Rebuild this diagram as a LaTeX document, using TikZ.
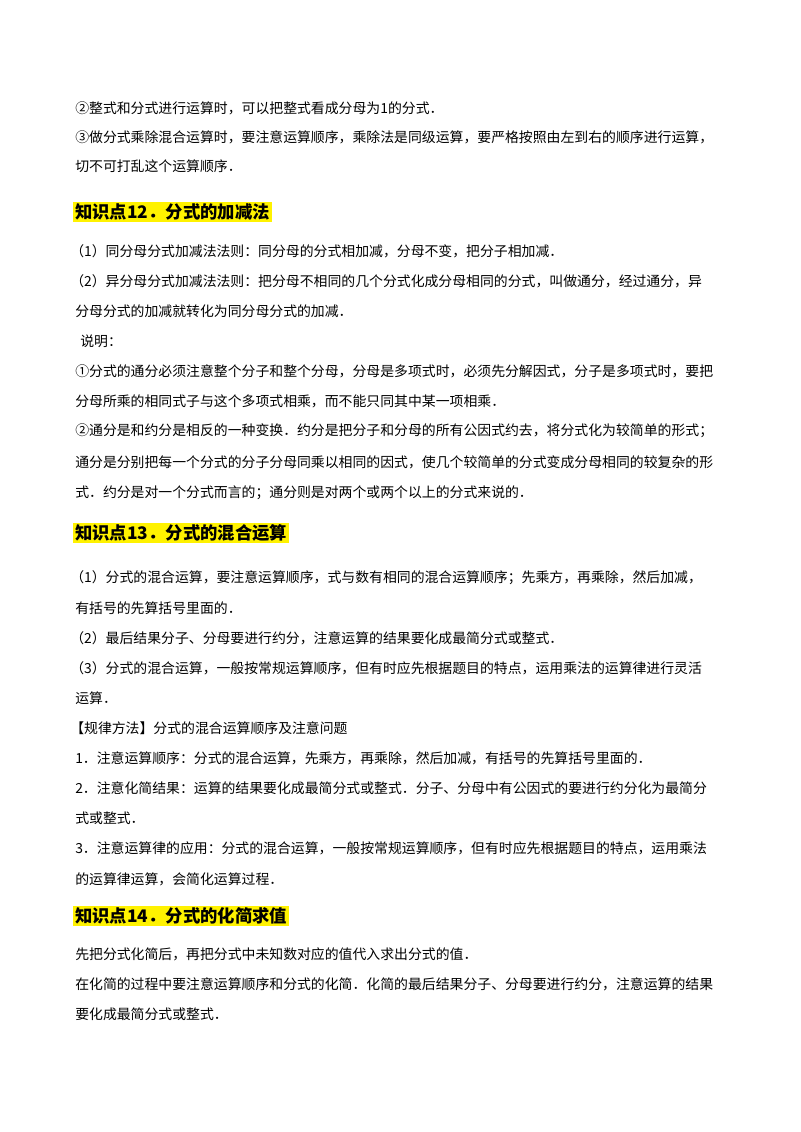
\documentclass[tikz,border=0pt]{standalone}
\usepackage{fontspec}
\setmainfont{Noto Sans CJK SC}
\newfontfamily\cjkb[BoldFont={* Bold}]{Noto Sans CJK SC}
\begin{document}
\begin{tikzpicture}[x=0.75pt,y=-0.75pt,
  ln/.style={anchor=west,inner sep=0pt,font=\fontsize{10.4pt}{12pt}\selectfont},
  hd/.style={anchor=west,inner sep=1.5pt,fill=yellow,font=\fontsize{13pt}{15pt}\selectfont\bfseries}]
\fill[white] (0,0) rectangle (800,1132);
\useasboundingbox (0,0) rectangle (800,1132);
\node[ln] (l1) at (75,108) {②整式和分式进行运算时，可以把整式看成分母为1的分式．};
\node[ln] (l2) at (75,137) {③做分式乘除混合运算时，要注意运算顺序，乘除法是同级运算，要严格按照由左到右的顺序进行运算，};
\node[ln] (l3) at (75,166) {切不可打乱这个运算顺序．};
\node[hd] (h1) at (73,212) {知识点12．分式的加减法};
\node[ln] (l4) at (70,251) {（1）同分母分式加减法法则：同分母的分式相加减，分母不变，把分子相加减．};
\node[ln] (l5) at (70,281) {（2）异分母分式加减法法则：把分母不相同的几个分式化成分母相同的分式，叫做通分，经过通分，异};
\node[ln] (l6) at (75,311) {分母分式的加减就转化为同分母分式的加减．};
\node[ln] (l7) at (80,341) {说明：};
\node[ln] (l8) at (75,371) {①分式的通分必须注意整个分子和整个分母，分母是多项式时，必须先分解因式，分子是多项式时，要把};
\node[ln] (l9) at (75,401) {分母所乘的相同式子与这个多项式相乘，而不能只同其中某一项相乘．};
\node[ln] (l10) at (75,431) {②通分是和约分是相反的一种变换．约分是把分子和分母的所有公因式约去，将分式化为较简单的形式；};
\node[ln] (l11) at (75,462) {通分是分别把每一个分式的分子分母同乘以相同的因式，使几个较简单的分式变成分母相同的较复杂的形};
\node[ln] (l12) at (75,493) {式．约分是对一个分式而言的；通分则是对两个或两个以上的分式来说的．};
\node[hd] (h2) at (73,533) {知识点13．分式的混合运算};
\node[ln] (l13) at (70,578) {（1）分式的混合运算，要注意运算顺序，式与数有相同的混合运算顺序；先乘方，再乘除，然后加减，};
\node[ln] (l14) at (75,608) {有括号的先算括号里面的．};
\node[ln] (l15) at (70,638) {（2）最后结果分子、分母要进行约分，注意运算的结果要化成最简分式或整式．};
\node[ln] (l16) at (70,668) {（3）分式的混合运算，一般按常规运算顺序，但有时应先根据题目的特点，运用乘法的运算律进行灵活};
\node[ln] (l17) at (75,698) {运算．};
\node[ln] (l18) at (70,728) {【规律方法】分式的混合运算顺序及注意问题};
\node[ln] (l19) at (75,758) {1．注意运算顺序：分式的混合运算，先乘方，再乘除，然后加减，有括号的先算括号里面的．};
\node[ln] (l20) at (75,788) {2．注意化简结果：运算的结果要化成最简分式或整式．分子、分母中有公因式的要进行约分化为最简分};
\node[ln] (l21) at (75,818) {式或整式．};
\node[ln] (l22) at (75,848) {3．注意运算律的应用：分式的混合运算，一般按常规运算顺序，但有时应先根据题目的特点，运用乘法};
\node[ln] (l23) at (75,879) {的运算律运算，会简化运算过程．};
\node[hd] (h3) at (73,916) {知识点14．分式的化简求值};
\node[ln] (l24) at (75,954) {先把分式化简后，再把分式中未知数对应的值代入求出分式的值．};
\node[ln] (l25) at (75,984) {在化简的过程中要注意运算顺序和分式的化简．化简的最后结果分子、分母要进行约分，注意运算的结果};
\node[ln] (l26) at (75,1014) {要化成最简分式或整式．};
\end{tikzpicture}
\end{document}
